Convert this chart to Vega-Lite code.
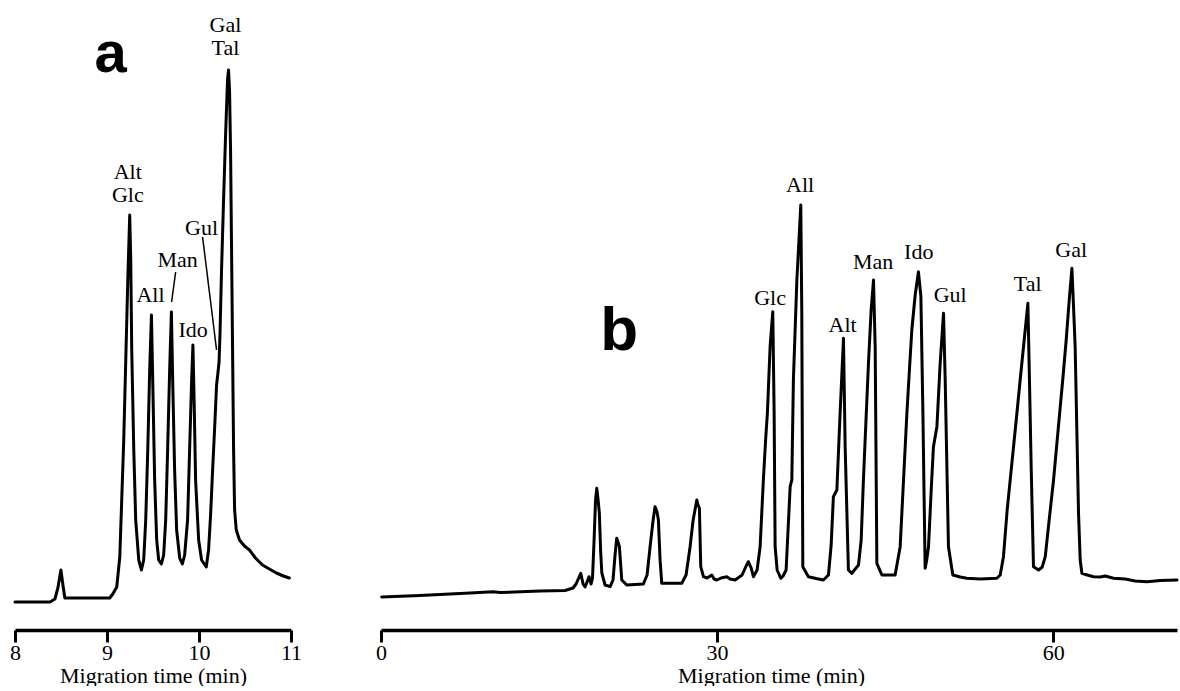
{
  "$schema": "https://vega.github.io/schema/vega-lite/v6.json",
  "background": "white",
  "padding": {"left": 9, "top": 0, "right": 0, "bottom": 0},
  "bounds": "flush",
  "spacing": 90,
  "config": {
    "view": {"stroke": null},
    "axis": {
      "domainColor": "black", "domainWidth": 3.5, "tickColor": "black", "tickWidth": 3, "tickSize": 12,
      "labelFont": "Liberation Serif", "labelFontSize": 22, "labelColor": "black", "labelPadding": 0, "labelFlush": false,
      "titleFont": "Liberation Serif", "titleFontSize": 22, "titleFontWeight": "normal", "titleColor": "black", "titlePadding": 2,
      "grid": false
    }
  },
  "datasets": {
    "traceA": [
      {"t": 8.000, "v": 28}, {"t": 8.380, "v": 28}, {"t": 8.434, "v": 31}, {"t": 8.466, "v": 42}, {"t": 8.499, "v": 60},
      {"t": 8.521, "v": 45}, {"t": 8.542, "v": 32}, {"t": 9.030, "v": 32}, {"t": 9.063, "v": 36}, {"t": 9.106, "v": 43},
      {"t": 9.139, "v": 73}, {"t": 9.160, "v": 130}, {"t": 9.182, "v": 190}, {"t": 9.204, "v": 270}, {"t": 9.226, "v": 350},
      {"t": 9.247, "v": 415}, {"t": 9.258, "v": 370}, {"t": 9.269, "v": 280}, {"t": 9.291, "v": 180}, {"t": 9.312, "v": 110},
      {"t": 9.345, "v": 70}, {"t": 9.374, "v": 60}, {"t": 9.399, "v": 70}, {"t": 9.421, "v": 110}, {"t": 9.443, "v": 180},
      {"t": 9.464, "v": 260}, {"t": 9.483, "v": 315}, {"t": 9.497, "v": 250}, {"t": 9.518, "v": 150}, {"t": 9.540, "v": 90},
      {"t": 9.562, "v": 70}, {"t": 9.591, "v": 66}, {"t": 9.616, "v": 75}, {"t": 9.638, "v": 110}, {"t": 9.659, "v": 180},
      {"t": 9.681, "v": 260}, {"t": 9.700, "v": 318}, {"t": 9.714, "v": 250}, {"t": 9.735, "v": 160}, {"t": 9.757, "v": 100},
      {"t": 9.790, "v": 72}, {"t": 9.819, "v": 66}, {"t": 9.844, "v": 75}, {"t": 9.876, "v": 110}, {"t": 9.898, "v": 180},
      {"t": 9.920, "v": 250}, {"t": 9.934, "v": 285}, {"t": 9.947, "v": 230}, {"t": 9.963, "v": 150}, {"t": 9.996, "v": 90},
      {"t": 10.028, "v": 70}, {"t": 10.079, "v": 63}, {"t": 10.104, "v": 80}, {"t": 10.126, "v": 115}, {"t": 10.148, "v": 160},
      {"t": 10.169, "v": 200}, {"t": 10.191, "v": 245}, {"t": 10.207, "v": 258}, {"t": 10.218, "v": 268}, {"t": 10.228, "v": 295},
      {"t": 10.245, "v": 360}, {"t": 10.267, "v": 430}, {"t": 10.289, "v": 495}, {"t": 10.310, "v": 550}, {"t": 10.321, "v": 560},
      {"t": 10.332, "v": 540}, {"t": 10.343, "v": 480}, {"t": 10.354, "v": 380}, {"t": 10.365, "v": 280}, {"t": 10.376, "v": 180},
      {"t": 10.387, "v": 120}, {"t": 10.405, "v": 100}, {"t": 10.440, "v": 90}, {"t": 10.494, "v": 84}, {"t": 10.549, "v": 80},
      {"t": 10.614, "v": 72}, {"t": 10.690, "v": 65}, {"t": 10.765, "v": 61}, {"t": 10.841, "v": 57}, {"t": 10.917, "v": 54},
      {"t": 10.982, "v": 52}
    ],
    "traceB": [
      {"t": 0.06, "v": 33}, {"t": 3.48, "v": 34.5}, {"t": 7.95, "v": 37}, {"t": 10.0, "v": 38.3}, {"t": 10.63, "v": 37.5},
      {"t": 14.2, "v": 39}, {"t": 16.43, "v": 39.5}, {"t": 17.14, "v": 42}, {"t": 17.41, "v": 46}, {"t": 17.83, "v": 56.7},
      {"t": 18.04, "v": 46}, {"t": 18.21, "v": 43}, {"t": 18.39, "v": 48}, {"t": 18.57, "v": 53.3}, {"t": 18.75, "v": 46},
      {"t": 18.88, "v": 52}, {"t": 19.02, "v": 90}, {"t": 19.15, "v": 130}, {"t": 19.26, "v": 141.7}, {"t": 19.38, "v": 130},
      {"t": 19.49, "v": 117}, {"t": 19.6, "v": 80}, {"t": 19.71, "v": 57}, {"t": 20.0, "v": 45}, {"t": 20.45, "v": 43.3},
      {"t": 20.71, "v": 50}, {"t": 20.89, "v": 75}, {"t": 21.04, "v": 91.7}, {"t": 21.16, "v": 88}, {"t": 21.28, "v": 83.3},
      {"t": 21.49, "v": 50}, {"t": 21.94, "v": 45}, {"t": 23.42, "v": 46}, {"t": 23.75, "v": 55}, {"t": 24.02, "v": 83.3},
      {"t": 24.29, "v": 110}, {"t": 24.46, "v": 123.3}, {"t": 24.64, "v": 118}, {"t": 24.76, "v": 110}, {"t": 24.91, "v": 70},
      {"t": 25.06, "v": 46.7}, {"t": 26.85, "v": 46.7}, {"t": 27.23, "v": 55}, {"t": 27.59, "v": 83.3}, {"t": 27.86, "v": 110},
      {"t": 28.19, "v": 130}, {"t": 28.30, "v": 125}, {"t": 28.42, "v": 122}, {"t": 28.54, "v": 63.3}, {"t": 28.78, "v": 53.3},
      {"t": 29.11, "v": 52}, {"t": 29.53, "v": 55}, {"t": 29.73, "v": 51}, {"t": 29.97, "v": 50}, {"t": 30.36, "v": 52},
      {"t": 30.87, "v": 53.3}, {"t": 31.16, "v": 51}, {"t": 31.61, "v": 50}, {"t": 32.23, "v": 55}, {"t": 32.59, "v": 64},
      {"t": 32.79, "v": 68.3}, {"t": 33.04, "v": 62}, {"t": 33.24, "v": 53.3}, {"t": 33.57, "v": 60}, {"t": 33.84, "v": 83.3},
      {"t": 34.13, "v": 150}, {"t": 34.33, "v": 190}, {"t": 34.49, "v": 217}, {"t": 34.73, "v": 283.3}, {"t": 34.97, "v": 318.3},
      {"t": 35.09, "v": 217}, {"t": 35.18, "v": 83.3}, {"t": 35.36, "v": 60}, {"t": 35.69, "v": 51.7}, {"t": 35.89, "v": 54},
      {"t": 36.16, "v": 60}, {"t": 36.52, "v": 143.3}, {"t": 36.67, "v": 150}, {"t": 36.81, "v": 250}, {"t": 37.12, "v": 350},
      {"t": 37.47, "v": 425}, {"t": 37.56, "v": 317}, {"t": 37.65, "v": 63.3}, {"t": 38.15, "v": 53.3}, {"t": 38.84, "v": 51.5},
      {"t": 39.49, "v": 50}, {"t": 39.94, "v": 55}, {"t": 40.18, "v": 85}, {"t": 40.38, "v": 133.3}, {"t": 40.69, "v": 140},
      {"t": 40.98, "v": 217}, {"t": 41.28, "v": 291.7}, {"t": 41.43, "v": 183.3}, {"t": 41.72, "v": 60}, {"t": 42.03, "v": 56.7},
      {"t": 42.62, "v": 65}, {"t": 42.86, "v": 90}, {"t": 43.06, "v": 150}, {"t": 43.51, "v": 266.7}, {"t": 43.75, "v": 320},
      {"t": 43.96, "v": 350}, {"t": 44.11, "v": 283.3}, {"t": 44.26, "v": 66.7}, {"t": 44.71, "v": 55}, {"t": 45.89, "v": 55},
      {"t": 46.34, "v": 83.3}, {"t": 46.94, "v": 216.7}, {"t": 47.14, "v": 255}, {"t": 47.38, "v": 300}, {"t": 47.68, "v": 335},
      {"t": 47.97, "v": 358.3}, {"t": 48.19, "v": 333.3}, {"t": 48.37, "v": 217}, {"t": 48.48, "v": 130}, {"t": 48.57, "v": 61.7},
      {"t": 48.71, "v": 70}, {"t": 48.87, "v": 83.3}, {"t": 49.11, "v": 140}, {"t": 49.31, "v": 183.3}, {"t": 49.62, "v": 203.3},
      {"t": 49.91, "v": 266.7}, {"t": 50.21, "v": 316.7}, {"t": 50.36, "v": 250}, {"t": 50.65, "v": 83.3}, {"t": 51.04, "v": 55},
      {"t": 51.70, "v": 53}, {"t": 52.29, "v": 51.7}, {"t": 53.48, "v": 51}, {"t": 54.97, "v": 51.7}, {"t": 55.27, "v": 55},
      {"t": 55.56, "v": 73.3}, {"t": 55.89, "v": 120}, {"t": 56.31, "v": 166.7}, {"t": 56.70, "v": 210}, {"t": 57.05, "v": 250},
      {"t": 57.41, "v": 290}, {"t": 57.74, "v": 326.7}, {"t": 57.88, "v": 250}, {"t": 58.04, "v": 160}, {"t": 58.24, "v": 63.3},
      {"t": 58.69, "v": 60}, {"t": 59.02, "v": 63}, {"t": 59.29, "v": 73.3}, {"t": 59.64, "v": 110}, {"t": 60.03, "v": 150},
      {"t": 60.63, "v": 223.3}, {"t": 60.89, "v": 255}, {"t": 61.16, "v": 290}, {"t": 61.43, "v": 330}, {"t": 61.67, "v": 361.7},
      {"t": 61.79, "v": 330}, {"t": 61.96, "v": 283.3}, {"t": 62.26, "v": 116.7}, {"t": 62.41, "v": 70}, {"t": 62.56, "v": 56.7},
      {"t": 63.04, "v": 55}, {"t": 63.60, "v": 53.3}, {"t": 64.20, "v": 53}, {"t": 64.64, "v": 54}, {"t": 65.38, "v": 51.7},
      {"t": 66.43, "v": 51}, {"t": 67.32, "v": 49}, {"t": 68.37, "v": 48.3}, {"t": 69.55, "v": 49.5}, {"t": 71.05, "v": 50}
    ],
    "labelsA": [
      {"t": 9.2256, "v": 451, "label": "Alt\nGlc"},
      {"t": 9.473, "v": 328, "label": "All"},
      {"t": 9.768, "v": 363, "label": "Man"},
      {"t": 9.936, "v": 293, "label": "Ido"},
      {"t": 10.028, "v": 395, "label": "Gul"},
      {"t": 10.288, "v": 598, "label": "Gal\nTal"}
    ],
    "leadersA": [
      {"t": 9.746, "t2": 9.702, "v": 358, "v2": 328},
      {"t": 10.039, "t2": 10.191, "v": 393, "v2": 280}
    ],
    "labelsB": [
      {"t": 34.73, "v": 325, "label": "Glc"},
      {"t": 37.41, "v": 438, "label": "All"},
      {"t": 41.2, "v": 298, "label": "Alt"},
      {"t": 43.93, "v": 361, "label": "Man"},
      {"t": 48.0, "v": 371, "label": "Ido"},
      {"t": 50.8, "v": 328, "label": "Gul"},
      {"t": 57.72, "v": 339, "label": "Tal"},
      {"t": 61.6, "v": 373, "label": "Gal"}
    ],
    "letterA": [{"t": 9.04, "v": 558, "label": "a"}],
    "letterB": [{"t": 21.25, "v": 280, "label": "b"}]
  },
  "hconcat": [
    {
      "width": 276,
      "height": 630,
      "layer": [
        {
          "data": {"name": "traceA"},
          "mark": {"type": "line", "color": "black", "strokeWidth": 3, "strokeJoin": "round", "strokeCap": "round"},
          "encoding": {
            "x": {"field": "t", "type": "quantitative", "scale": {"domain": [8, 11], "nice": false, "zero": false},
                  "axis": {"values": [8, 9, 10, 11], "title": "Migration time (min)", "format": "d"}},
            "y": {"field": "v", "type": "quantitative", "scale": {"domain": [0, 630], "nice": false}, "axis": null}
          }
        },
        {
          "data": {"name": "labelsA"},
          "mark": {"type": "text", "font": "Liberation Serif", "fontSize": 22, "color": "black", "align": "center", "baseline": "alphabetic", "lineBreak": "\n", "lineHeight": 23},
          "encoding": {
            "x": {"field": "t", "type": "quantitative"},
            "y": {"field": "v", "type": "quantitative"},
            "text": {"field": "label"}
          }
        },
        {
          "data": {"name": "leadersA"},
          "mark": {"type": "rule", "color": "black", "strokeWidth": 1.5},
          "encoding": {
            "x": {"field": "t", "type": "quantitative"},
            "x2": {"field": "t2"},
            "y": {"field": "v", "type": "quantitative"},
            "y2": {"field": "v2"}
          }
        },
        {
          "data": {"name": "letterA"},
          "mark": {"type": "text", "font": "Liberation Sans", "fontWeight": "bold", "fontSize": 58, "color": "black", "align": "center", "baseline": "alphabetic"},
          "encoding": {
            "x": {"field": "t", "type": "quantitative"},
            "y": {"field": "v", "type": "quantitative"},
            "text": {"field": "label"}
          }
        }
      ]
    },
    {
      "width": 796,
      "height": 630,
      "layer": [
        {
          "data": {"name": "traceB"},
          "mark": {"type": "line", "color": "black", "strokeWidth": 3, "strokeJoin": "round", "strokeCap": "round"},
          "encoding": {
            "x": {"field": "t", "type": "quantitative", "scale": {"domain": [0, 71.05], "nice": false, "zero": false},
                  "axis": {"values": [0, 30, 60], "title": "Migration time (min)", "format": "d", "titleX": 390}},
            "y": {"field": "v", "type": "quantitative", "scale": {"domain": [0, 630], "nice": false}, "axis": null}
          }
        },
        {
          "data": {"name": "labelsB"},
          "mark": {"type": "text", "font": "Liberation Serif", "fontSize": 22, "color": "black", "align": "center", "baseline": "alphabetic"},
          "encoding": {
            "x": {"field": "t", "type": "quantitative"},
            "y": {"field": "v", "type": "quantitative"},
            "text": {"field": "label"}
          }
        },
        {
          "data": {"name": "letterB"},
          "mark": {"type": "text", "font": "Liberation Sans", "fontWeight": "bold", "fontSize": 62, "color": "black", "align": "center", "baseline": "alphabetic"},
          "encoding": {
            "x": {"field": "t", "type": "quantitative"},
            "y": {"field": "v", "type": "quantitative"},
            "text": {"field": "label"}
          }
        }
      ]
    }
  ]
}
